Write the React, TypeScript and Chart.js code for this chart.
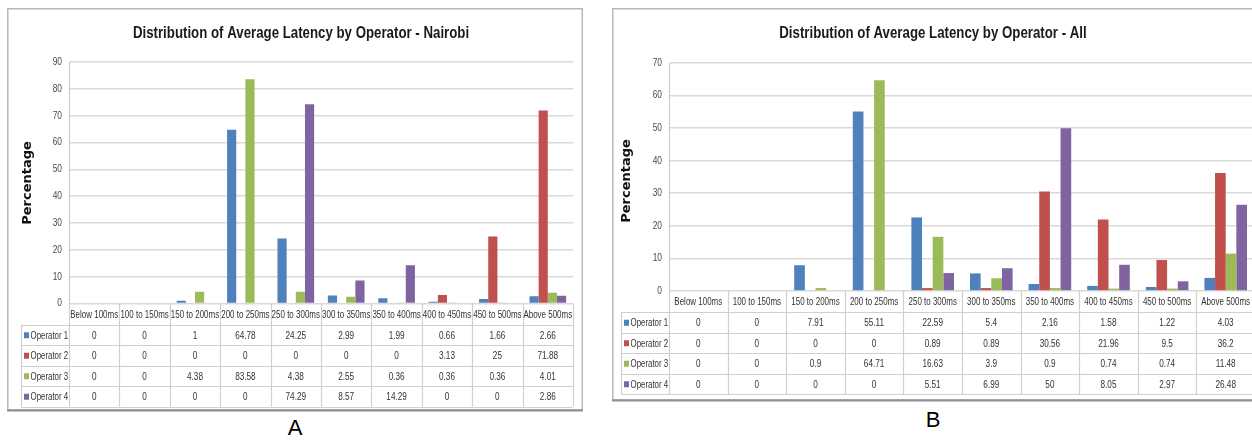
import React, { useEffect, useRef } from "react";
import { Chart, registerables } from "chart.js";

Chart.register(...registerables);

// ---- data ----
const categories = [
  "Below 100ms",
  "100 to 150ms",
  "150 to 200ms",
  "200 to 250ms",
  "250 to 300ms",
  "300 to 350ms",
  "350 to 400ms",
  "400 to 450ms",
  "450 to 500ms",
  "Above 500ms",
];
const operators = ["Operator 1", "Operator 2", "Operator 3", "Operator 4"];

const nairobiOp1 = [0, 0, 1, 64.78, 24.25, 2.99, 1.99, 0.66, 1.66, 2.66];
const nairobiOp2 = [0, 0, 0, 0, 0, 0, 0, 3.13, 25, 71.88];
const nairobiOp3 = [0, 0, 4.38, 83.58, 4.38, 2.55, 0.36, 0.36, 0.36, 4.01];
const nairobiOp4 = [0, 0, 0, 0, 74.29, 8.57, 14.29, 0, 0, 2.86];

const allOp1 = [0, 0, 7.91, 55.11, 22.59, 5.4, 2.16, 1.58, 1.22, 4.03];
const allOp2 = [0, 0, 0, 0, 0.89, 0.89, 30.56, 21.96, 9.5, 36.2];
const allOp3 = [0, 0, 0.9, 64.71, 16.63, 3.9, 0.9, 0.74, 0.74, 11.48];
const allOp4 = [0, 0, 0, 0, 5.51, 6.99, 50, 8.05, 2.97, 26.48];

const nairobiTitle = "Distribution of Average Latency by Operator - Nairobi";
const allTitle = "Distribution of Average Latency by Operator - All";
const yAxisTitle = "Percentage";
const nairobiMax = 90;
const allMax = 70;

// ---- styling ----
const seriesColors = ["#4F81BD", "#C0504D", "#9BBB59", "#8064A2"];
const SANS = '"Liberation Sans", Arial, sans-serif';
const WIDE_BOLD = '"DejaVu Sans", Verdana, sans-serif';

type Layout = {
  left: number;
  top: number;
  width: number;
  height: number;
  plotLeft: number;
  plotTop: number;
  plotRight: number;
  plotBottom: number;
  titleX: number;
  titleY: number;
  yTitleX: number;
  yTitleY: number;
  legendLeft: number;
  headerH: number;
  rowH: number;
};

const layoutA: Layout = {
  left: 7,
  top: 8,
  width: 576,
  height: 404,
  plotLeft: 62,
  plotTop: 54,
  plotRight: 566,
  plotBottom: 295.5,
  titleX: 294,
  titleY: 25,
  yTitleX: 21,
  yTitleY: 175,
  legendLeft: 14,
  headerH: 21,
  rowH: 20.5,
};

const layoutB: Layout = {
  left: 612,
  top: 8,
  width: 652,
  height: 394,
  plotLeft: 57,
  plotTop: 55,
  plotRight: 643,
  plotBottom: 283,
  titleX: 321,
  titleY: 25,
  yTitleX: 15,
  yTitleY: 173,
  legendLeft: 9,
  headerH: 21,
  rowH: 20.5,
};

// Draws text squeezed horizontally, giving a condensed face.
function squeezed(
  ctx: CanvasRenderingContext2D,
  text: string,
  x: number,
  y: number,
  sx: number,
  align: CanvasTextAlign
) {
  ctx.save();
  ctx.translate(x, y);
  ctx.scale(sx, 1);
  ctx.textAlign = align;
  ctx.fillText(text, 0, 0);
  ctx.restore();
}

function decoratePlugin(title: string, lay: Layout, series: number[][]) {
  return {
    id: "frameAndTable",
    beforeDraw(chart: any) {
      const ctx = chart.ctx as CanvasRenderingContext2D;
      ctx.save();
      ctx.fillStyle = "#ffffff";
      ctx.fillRect(0, 0, chart.width, chart.height);
      // outer frame
      ctx.strokeStyle = "#b8b8b8";
      ctx.lineWidth = 1.5;
      ctx.strokeRect(0.75, 0.75, chart.width - 1.5, chart.height - 3);
      ctx.strokeStyle = "#8f8f8f";
      ctx.lineWidth = 2;
      ctx.beginPath();
      ctx.moveTo(0, chart.height - 1.5);
      ctx.lineTo(chart.width, chart.height - 1.5);
      ctx.stroke();
      ctx.restore();
    },
    afterDraw(chart: any) {
      const ctx = chart.ctx as CanvasRenderingContext2D;
      const xs = chart.scales.x;
      const ys = chart.scales.y;
      const area = chart.chartArea;
      const n = categories.length;
      const colW = (area.right - area.left) / n;
      const headerTop = area.bottom;
      const headerBottom = headerTop + lay.headerH;
      const tableBottom = headerBottom + lay.rowH * series.length;

      ctx.save();
      ctx.textBaseline = "middle";

      // chart title
      ctx.fillStyle = "#1a1a1a";
      ctx.font = "bold 17px " + SANS;
      squeezed(ctx, title, lay.titleX, lay.titleY, 0.78, "center");

      // vertical axis title
      ctx.save();
      ctx.translate(lay.yTitleX, lay.yTitleY);
      ctx.rotate(-Math.PI / 2);
      ctx.font = "bold 13px " + WIDE_BOLD;
      ctx.fillStyle = "#111111";
      ctx.textAlign = "center";
      ctx.fillText(yAxisTitle, 0, 0);
      ctx.restore();

      // value axis tick labels
      ctx.fillStyle = "#4a4a4a";
      ctx.font = "10.5px " + SANS;
      ys.ticks.forEach((t: any) => {
        squeezed(ctx, String(t.value), area.left - 7, ys.getPixelForValue(t.value), 0.8, "right");
      });

      // data table grid
      ctx.strokeStyle = "#d0d0d0";
      ctx.lineWidth = 1.2;
      ctx.beginPath();
      for (let i = 0; i <= n; i++) {
        const xx = Math.round(area.left + i * colW) + 0.5;
        ctx.moveTo(xx, headerTop);
        ctx.lineTo(xx, tableBottom);
      }
      ctx.moveTo(lay.legendLeft + 0.5, headerBottom);
      ctx.lineTo(lay.legendLeft + 0.5, tableBottom);
      for (let r = 0; r <= series.length; r++) {
        const yy = Math.round(headerBottom + r * lay.rowH) + 0.5;
        ctx.moveTo(lay.legendLeft, yy);
        ctx.lineTo(area.right, yy);
      }
      ctx.stroke();

      // category header row
      ctx.fillStyle = "#333333";
      ctx.font = "10.5px " + SANS;
      categories.forEach((c, i) => {
        squeezed(ctx, c, xs.getPixelForValue(i), (headerTop + headerBottom) / 2 + 1, 0.76, "center");
      });

      // series rows
      series.forEach((vals, r) => {
        const cy = headerBottom + (r + 0.5) * lay.rowH + 1;
        ctx.fillStyle = seriesColors[r];
        ctx.fillRect(lay.legendLeft + 3, cy - 3.5, 5, 6);
        ctx.fillStyle = "#333333";
        ctx.font = "10.5px " + SANS;
        squeezed(ctx, operators[r], lay.legendLeft + 9.5, cy, 0.75, "left");
        vals.forEach((v, i) => {
          squeezed(ctx, String(v), xs.getPixelForValue(i), cy, 0.78, "center");
        });
      });
      ctx.restore();
    },
  };
}

function LatencyChart({
  title,
  lay,
  series,
  yMax,
}: {
  title: string;
  lay: Layout;
  series: number[][];
  yMax: number;
}) {
  const ref = useRef<HTMLCanvasElement | null>(null);

  useEffect(() => {
    if (!ref.current) return;
    const chart = new Chart(ref.current, {
      type: "bar",
      data: {
        labels: categories,
        datasets: series.map((vals, i) => ({
          label: operators[i],
          data: vals,
          backgroundColor: seriesColors[i],
          borderWidth: 0,
          barPercentage: 1,
          categoryPercentage: 4 / 5.5,
        })),
      },
      options: {
        responsive: false,
        animation: false,
        events: [],
        layout: {
          padding: {
            left: 0,
            top: lay.plotTop,
            right: lay.width - lay.plotRight,
            bottom: lay.height - lay.plotBottom,
          },
        },
        plugins: {
          legend: { display: false },
          title: { display: false },
          tooltip: { enabled: false },
        },
        scales: {
          x: {
            display: false,
          },
          y: {
            min: 0,
            max: yMax,
            afterFit: (s: any) => {
              s.width = lay.plotLeft;
            },
            ticks: {
              stepSize: 10,
              display: false,
            },
            grid: {
              color: "#d9d9d9",
              lineWidth: 1.6,
              drawTicks: false,
            },
            border: { display: true, color: "#c4c4c4", width: 1 },
          },
        },
      },
      plugins: [decoratePlugin(title, lay, series)],
    });
    return () => chart.destroy();
  }, [title, lay, series, yMax]);

  return (
    <canvas
      ref={ref}
      width={lay.width}
      height={lay.height}
      style={{
        position: "absolute",
        left: lay.left,
        top: lay.top,
        width: lay.width,
        height: lay.height,
      }}
    />
  );
}

const letterStyle: React.CSSProperties = {
  position: "absolute",
  fontFamily: SANS,
  fontSize: 22,
  color: "#000",
  lineHeight: "22px",
  transform: "translate(-50%, -50%)",
};

export default function App() {
  return (
    <div
      style={{
        position: "fixed",
        left: 0,
        top: 0,
        width: 1252,
        height: 440,
        overflow: "hidden",
        background: "#ffffff",
      }}
    >
      <LatencyChart
        title={nairobiTitle}
        lay={layoutA}
        series={[nairobiOp1, nairobiOp2, nairobiOp3, nairobiOp4]}
        yMax={nairobiMax}
      />
      <LatencyChart
        title={allTitle}
        lay={layoutB}
        series={[allOp1, allOp2, allOp3, allOp4]}
        yMax={allMax}
      />
      <div style={{ ...letterStyle, left: 295, top: 428 }}>A</div>
      <div style={{ ...letterStyle, left: 933, top: 420 }}>B</div>
    </div>
  );
}
